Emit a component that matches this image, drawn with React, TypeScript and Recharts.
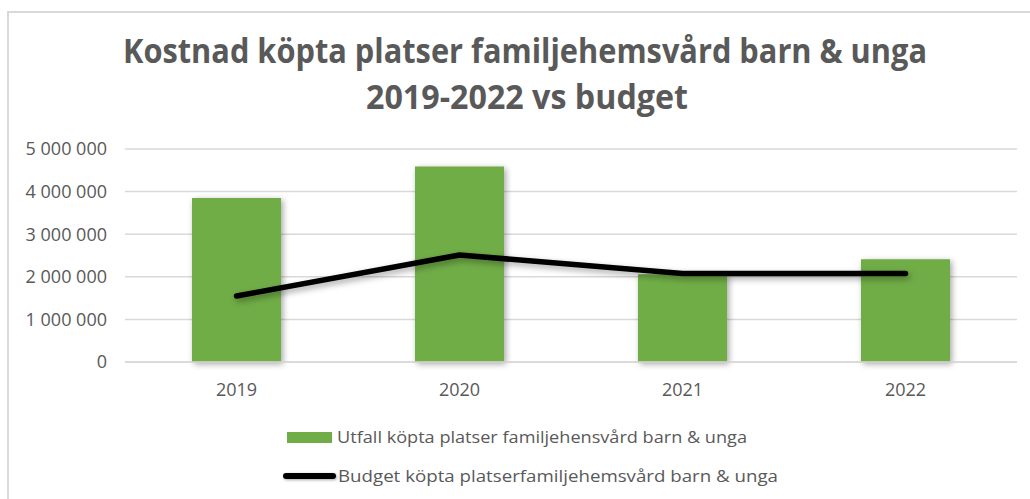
import React from 'react';
import { ComposedChart, Bar, Line, XAxis, YAxis, CartesianGrid, Legend } from 'recharts';

const years = ['2019', '2020', '2021', '2022'];
const utfall = [3850000, 4590000, 2060000, 2410000];
const budget = [1550000, 2510000, 2080000, 2080000];
const yTicks = [0, 1000000, 2000000, 3000000, 4000000, 5000000];

const utfallName = 'Utfall köpta platser familjehensvård barn & unga';
const budgetName = 'Budget köpta platserfamiljehemsvård barn & unga';
const titleLine1 = 'Kostnad köpta platser familjehemsvård barn & unga';
const titleLine2 = '2019-2022 vs budget';

const data = years.map((y, i) => ({ year: y, utfall: utfall[i], budget: budget[i] }));

const FONT = '"Open Sans", "Liberation Sans", sans-serif';
const GREY = '#595959';

const fmt = (v: number) => String(v).replace(/\B(?=(\d{3})+(?!\d))/g, ' ');

const LegendContent = (props: any) => {
  const payload = props.payload || [];
  const bar = payload.find((p: any) => p.dataKey === 'utfall');
  const line = payload.find((p: any) => p.dataKey === 'budget');
  return (
    <svg width={1030} height={79} style={{ position: 'absolute', left: 0, top: 0, overflow: 'visible' }}>
      <rect x={287} y={12} width={45} height={11} fill={bar ? bar.color : '#70ad47'} />
      <text x={337} y={23} fontFamily={FONT} fontSize={17} fill={GREY} textLength={410} lengthAdjust="spacingAndGlyphs">
        {bar ? bar.value : utfallName}
      </text>
      <line x1={286} x2={333} y1={56} y2={56} stroke={line ? line.color : '#000'} strokeWidth={6} strokeLinecap="round" style={{ filter: 'drop-shadow(1px 1px 1.5px rgba(0,0,0,0.35))' }} />
      <text x={338} y={62} fontFamily={FONT} fontSize={17} fill={GREY} textLength={440} lengthAdjust="spacingAndGlyphs">
        {line ? line.value : budgetName}
      </text>
    </svg>
  );
};

export default function App() {
  return (
    <div style={{ position: 'absolute', left: 0, top: 0, width: 1030, height: 499, background: '#fff', overflow: 'hidden' }}>
      <style>{`
        .recharts-bar-rectangle path { filter: drop-shadow(2px 2px 3px rgba(0,0,0,0.35)); }
        .recharts-line-curve { filter: drop-shadow(2px 3px 3px rgba(0,0,0,0.35)); }
      `}</style>
      <div style={{ position: 'absolute', left: 7, top: 11, width: 1100, height: 600, borderLeft: '2px solid #d9d9d9', borderTop: '2px solid #d9d9d9' }} />
      <svg width={1030} height={130} style={{ position: 'absolute', left: 0, top: 0 }}>
        <text x={123} y={63} fontFamily={FONT} fontWeight={700} fontSize={34} fill={GREY} textLength={804} lengthAdjust="spacingAndGlyphs">
          {titleLine1}
        </text>
        <text x={366} y={109} fontFamily={FONT} fontWeight={700} fontSize={34} fill={GREY} textLength={322} lengthAdjust="spacingAndGlyphs">
          {titleLine2}
        </text>
      </svg>
      <div style={{ position: 'absolute', left: 0, top: 0 }}>
        <ComposedChart width={1030} height={499} data={data} margin={{ top: 149, right: 13, bottom: 107, left: 0 }}>
          <CartesianGrid vertical={false} stroke="#d9d9d9" strokeWidth={1.5} />
          <XAxis
            dataKey="year"
            axisLine={{ stroke: '#d9d9d9', strokeWidth: 1.5 }}
            tickLine={false}
            tickMargin={15}
            tick={{ fill: GREY, fontSize: 18, fontFamily: FONT }}
          />
          <YAxis
            width={125}
            domain={[0, 5000000]}
            ticks={yTicks}
            axisLine={false}
            tickLine={false}
            tickMargin={12}
            tickFormatter={fmt}
            tick={{ fill: GREY, fontSize: 18, fontFamily: FONT }}
          />
          <Bar dataKey="utfall" name={utfallName} fill="#70ad47" barSize={89} isAnimationActive={false} />
          <Line
            dataKey="budget"
            name={budgetName}
            stroke="#000"
            strokeWidth={5.5}
            strokeLinecap="round"
            strokeLinejoin="round"
            dot={false}
            activeDot={false}
            type="linear"
            isAnimationActive={false}
          />
          <Legend
            verticalAlign="bottom"
            content={<LegendContent />}
            wrapperStyle={{ position: 'absolute', left: 0, top: 420, width: 1030, height: 0, overflow: 'visible' }}
          />
        </ComposedChart>
      </div>
    </div>
  );
}
